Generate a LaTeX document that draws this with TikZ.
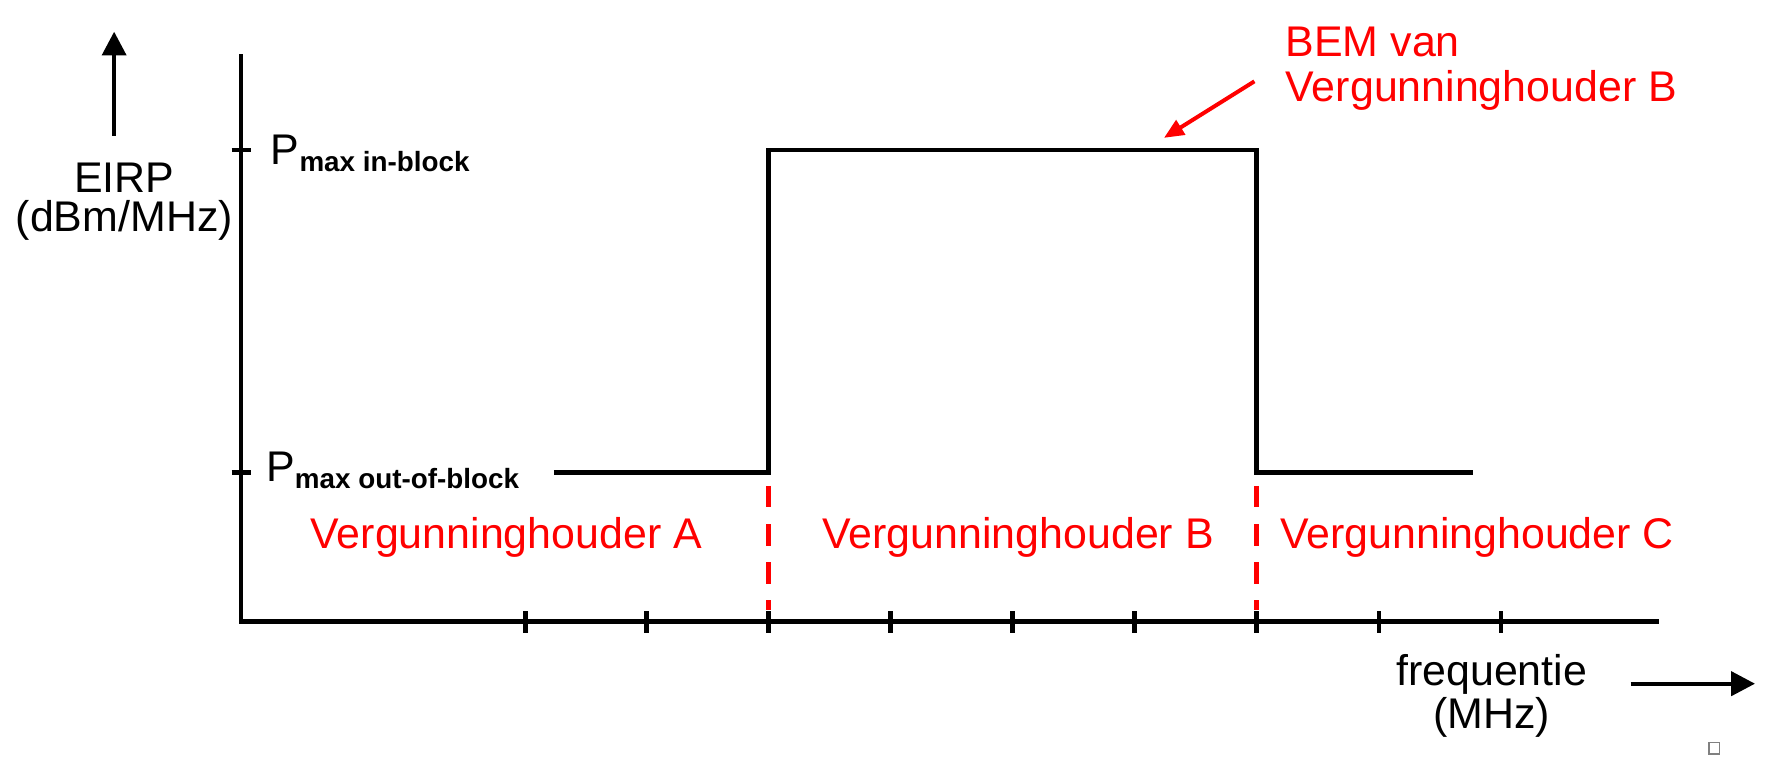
\documentclass[tikz,border=0pt]{standalone}
\usepackage{fontspec}
\setmainfont{Liberation Sans}
\usetikzlibrary{arrows.meta}
\definecolor{bemred}{RGB}{255,0,0}
\tikzset{
  axisline/.style={line width=1.1pt, line join=miter},
  sigline/.style={line width=1.1pt, line join=miter},
  tickline/.style={line width=1.1pt},
  redsep/.style={bemred, line width=1.1pt, dash pattern=on 5.4pt off 4.2pt},
  bigarrow/.style={line width=1.1pt, -{Triangle[length=6pt,width=6pt]}},
  redarrow/.style={bemred, line width=1pt, -{Triangle[length=5pt,width=4.2pt]}},
  lbl/.style={inner sep=0pt, font=\fontsize{10.8}{11}\selectfont},
  redlbl/.style={lbl, text=bemred},
}
\newcommand{\Psub}[1]{P{\fontsize{7}{8}\selectfont\bfseries\raisebox{-1.7pt}{#1}}}
\begin{document}
\begin{tikzpicture}[x=0.01cm, y=-0.01cm]
\useasboundingbox (0,0) rectangle (1568,680);
% axes
\coordinate (ytop) at (213,48);
\coordinate (orig) at (213,550);
\coordinate (xend) at (1468,550);
\draw[axisline] (ytop) -- (orig) -- (xend);
% y ticks
\foreach \yy/\nm in {133/yin,418/yout}{
  \coordinate (\nm) at (213,\yy);
  \draw[tickline] (\nm) ++(-8,0) -- ++(17,0);
}
% x ticks
\foreach \xx [count=\i] in {465,572,680,788,896,1004,1112,1220,1328}{
  \coordinate (xt\i) at (\xx,550);
  \draw[tickline] (xt\i) ++(0,-9) -- ++(0,19);
}
% signal
\coordinate (s0) at (490,418);
\coordinate (s1) at (680,418);
\coordinate (s2) at (680,133);
\coordinate (s3) at (1112,133);
\coordinate (s4) at (1112,418);
\coordinate (s5) at (1303,418);
\draw[sigline] (s0) -- (s1) -- (s2) -- (s3) -- (s4) -- (s5);
% red separators
\coordinate (d1a) at (680,430);
\coordinate (d1b) at (680,540);
\coordinate (d2a) at (1112,430);
\coordinate (d2b) at (1112,540);
\draw[redsep] (d1a) -- (d1b);
\draw[redsep] (d2a) -- (d2b);
% axis arrows
\coordinate (ua0) at (101,120);
\coordinate (ua1) at (101,28);
\draw[bigarrow] (ua0) -- (ua1);
\coordinate (ra0) at (1443,605);
\coordinate (ra1) at (1553,605);
\draw[bigarrow] (ra0) -- (ra1);
% labels
\node[lbl, anchor=base] (eirp) at (110,170) {EIRP};
\node[lbl, anchor=base] (unit) at (110,205) {(dBm/MHz)};
\node[lbl, anchor=base west] (pin) at (239,146) {\Psub{max in-block}};
\node[lbl, anchor=base west] (pout) at (235,426) {\Psub{max out-of-block}};
\node[redlbl, anchor=base] (va) at (448,485) {Vergunninghouder A};
\node[redlbl, anchor=base] (vb) at (901,485) {Vergunninghouder B};
\node[redlbl, anchor=base] (vc) at (1307,485) {Vergunninghouder C};
\node[redlbl, anchor=base west] (bem1) at (1137,50) {BEM van};
\node[redlbl, anchor=base west] (bem2) at (1137,90) {Vergunninghouder B};
\node[lbl, anchor=base] (freq) at (1320,607) {frequentie};
\node[lbl, anchor=base] (mhz) at (1320,645) {(MHz)};
% red pointer
\coordinate (rp0) at (1110,72);
\coordinate (rp1) at (1030,122);
\draw[redarrow] (rp0) -- (rp1);
% small box
\node[draw=gray, line width=0.4pt, minimum width=2.6pt, minimum height=2.9pt, inner sep=0pt] (box) at (1517,662) {};
\end{tikzpicture}
\end{document}
